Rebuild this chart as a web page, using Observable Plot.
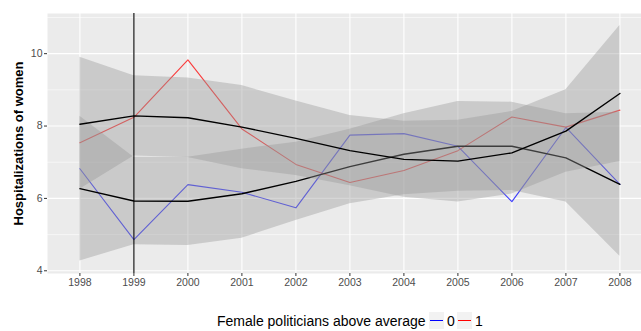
<!DOCTYPE html>
<html>
<head>
<meta charset="utf-8">
<script src="https://cdn.jsdelivr.net/npm/d3@7"></script>
<script src="https://cdn.jsdelivr.net/npm/@observablehq/plot@0.6"></script>
<style>
  html, body { margin: 0; padding: 0; background: #fff; }
  body { width: 641px; height: 331px; overflow: hidden; font-family: "Liberation Sans", Arial, sans-serif; }
  #legend { position: relative; height: 26px; }
  #legend .title { position: absolute; left: 217px; top: 8px; font-size: 14px; color: #000; white-space: nowrap; }
  #legend .key { position: absolute; top: 7px; width: 15px; height: 17px; background: #F2F2F2; }
  #legend .key span { position: absolute; left: 1px; right: 1px; top: 8px; height: 1px; }
  #legend .lab { position: absolute; top: 8px; font-size: 14px; color: #000; }
</style>
</head>
<body>
<div id="chart"></div>
<div id="legend"></div>
<script>
// ---- data ----
const years = [1998, 1999, 2000, 2001, 2002, 2003, 2004, 2005, 2006, 2007, 2008];
const group0 = [6.82, 4.86, 6.38, 6.17, 5.74, 7.75, 7.79, 7.44, 5.91, 7.96, 6.39]; // blue, "0"
const group1 = [7.54, 8.24, 9.83, 7.92, 6.94, 6.44, 6.77, 7.32, 8.25, 7.97, 8.44]; // red, "1"
const smoothA = [8.05, 8.28, 8.23, 7.97, 7.66, 7.32, 7.08, 7.03, 7.26, 7.86, 8.90];
const smoothALo = [6.25, 7.17, 7.13, 6.82, 6.63, 6.35, 6.03, 5.90, 6.12, 6.72, 7.02];
const smoothAHi = [9.90, 9.39, 9.33, 9.12, 8.69, 8.29, 8.13, 8.16, 8.40, 9.00, 10.78];
const smoothB = [6.27, 5.93, 5.92, 6.13, 6.47, 6.88, 7.22, 7.44, 7.44, 7.12, 6.39];
const smoothBLo = [4.27, 4.72, 4.70, 4.90, 5.39, 5.85, 6.10, 6.20, 6.22, 5.90, 4.40];
const smoothBHi = [8.27, 7.14, 7.14, 7.36, 7.55, 7.91, 8.34, 8.68, 8.66, 8.34, 8.38];
const yTicks = [4, 6, 8, 10];
const yMinor = [5, 7, 9, 11];
const markerYear = [1999];
const legendTitle = "Female politicians above average";
const legendLabels = ["0", "1"];
const legendColors = ["blue", "red"];
const yTitle = "Hospitalizations of women";

const rows = (vals) => years.map((yr, i) => ({year: yr, v: vals[i]}));
const band = (lo, hi) => years.map((yr, i) => ({year: yr, lo: lo[i], hi: hi[i]}));

const font = '"Liberation Sans", Arial, sans-serif';

const chart = Plot.plot({
  width: 641,
  height: 305,
  marginLeft: 47,
  marginRight: 0,
  marginTop: 13,
  marginBottom: 32,
  style: {fontFamily: font, background: "#fff"},
  x: {domain: [1997.4, 2008.4]},
  y: {domain: [3.925, 11.11]},
  marks: [
    Plot.frame({fill: "#EBEBEB", stroke: null}),
    Plot.ruleY(yMinor, {stroke: "#fff", strokeWidth: 0.55}),
    Plot.ruleY(yTicks, {stroke: "#fff", strokeWidth: 1.1}),
    Plot.ruleX(years, {stroke: "#fff", strokeWidth: 1.1}),
    Plot.line(rows(group0), {x: "year", y: "v", stroke: legendColors[0], strokeWidth: 1.1, strokeOpacity: 0.75}),
    Plot.line(rows(group1), {x: "year", y: "v", stroke: legendColors[1], strokeWidth: 1.1, strokeOpacity: 0.75}),
    Plot.areaY(band(smoothBLo, smoothBHi), {x: "year", y1: "lo", y2: "hi", fill: "#999999", fillOpacity: 0.4}),
    Plot.line(rows(smoothB), {x: "year", y: "v", stroke: "#000", strokeWidth: 1.4}),
    Plot.areaY(band(smoothALo, smoothAHi), {x: "year", y1: "lo", y2: "hi", fill: "#999999", fillOpacity: 0.4}),
    Plot.line(rows(smoothA), {x: "year", y: "v", stroke: "#000", strokeWidth: 1.4}),
    Plot.ruleX(markerYear, {stroke: "#000", strokeWidth: 1.1}),
    Plot.axisX({ticks: years, tickFormat: d => String(d), tickSize: 3, tickPadding: 2, fontSize: 10.5, color: "#4D4D4D", stroke: "#333", label: null}),
    Plot.axisY({ticks: yTicks, tickSize: 3, tickPadding: 2, fontSize: 10.5, color: "#4D4D4D", stroke: "#333", label: null}),
    Plot.text([yTitle], {frameAnchor: "left", rotate: -90, dx: -29, fontSize: 13, fontWeight: "bold", fill: "#000", textAnchor: "middle", lineAnchor: "middle"})
  ]
});
document.getElementById("chart").appendChild(chart);

// ---- legend below the plot ----
const lg = document.getElementById("legend");
const t = document.createElement("div");
t.className = "title";
t.textContent = legendTitle;
lg.appendChild(t);
const keyLefts = [429, 457];
legendLabels.forEach((lab, i) => {
  const k = document.createElement("div");
  k.className = "key";
  k.style.left = keyLefts[i] + "px";
  const s = document.createElement("span");
  s.style.background = legendColors[i];
  k.appendChild(s);
  lg.appendChild(k);
  const l = document.createElement("div");
  l.className = "lab";
  l.style.left = (keyLefts[i] + 18) + "px";
  l.textContent = lab;
  lg.appendChild(l);
});
</script>
</body>
</html>
